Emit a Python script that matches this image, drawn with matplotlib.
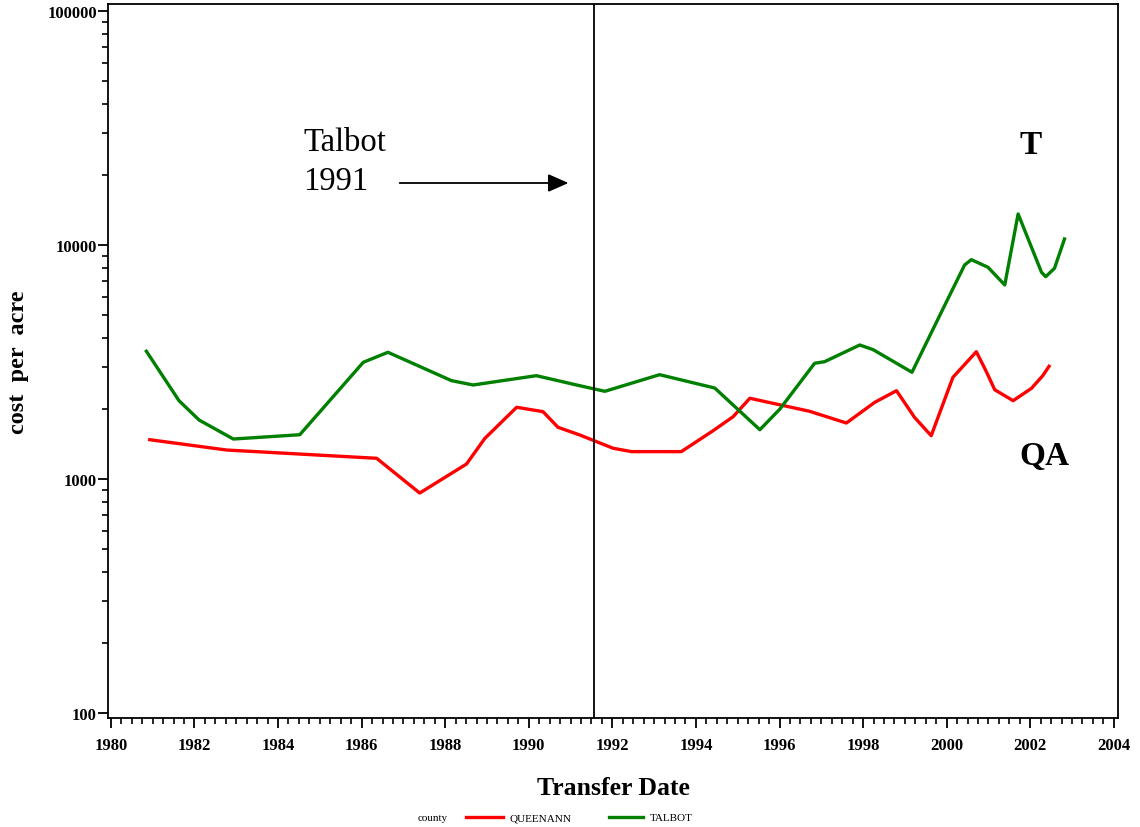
import numpy as np
import matplotlib
matplotlib.use('Agg')
import matplotlib.pyplot as plt
from matplotlib.ticker import FixedLocator, MultipleLocator, LogLocator, NullFormatter, FuncFormatter

plt.rcParams['font.family'] = ['Liberation Serif', 'DejaVu Serif']

# values (year, cost per acre)
talbot_year = [1980.85, 1981.63, 1982.11, 1982.93, 1984.52, 1986.04, 1986.63, 1988.15, 1988.67,
               1990.18, 1991.22, 1991.82, 1993.13, 1994.45, 1995.53, 1996.01, 1996.84, 1997.08,
               1997.92, 1998.24, 1999.17, 1999.91, 2000.43, 2000.59, 2000.99, 2001.39, 2001.71,
               2002.27, 2002.37, 2002.58, 2002.82]
talbot_cost = [3513, 2161, 1787, 1482, 1546, 3153, 3479, 2632, 2522,
               2764, 2504, 2370, 2791, 2448, 1624, 1991, 3122, 3172,
               3738, 3570, 2858, 5327, 8214, 8654, 8028, 6747, 13570,
               7643, 7320, 7949, 10607]

qa_year = [1980.93, 1982.77, 1986.36, 1987.39, 1988.51, 1988.95, 1989.71, 1990.34, 1990.70,
           1991.22, 1992.02, 1992.46, 1993.65, 1994.41, 1994.89, 1995.29, 1996.72, 1997.60,
           1998.28, 1998.80, 1999.23, 1999.63, 2000.15, 2000.71, 2000.95, 2001.15, 2001.59,
           2002.03, 2002.30, 2002.45]
qa_cost = [1472, 1330, 1226, 871, 1159, 1492, 2025, 1940, 1663,
           1542, 1353, 1309, 1309, 1608, 1846, 2213, 1947, 1735,
           2127, 2384, 1835, 1531, 2720, 3499, 2874, 2407, 2161,
           2441, 2764, 3031]

year_ticks = list(range(1980, 2005, 2))
cost_ticks = [100, 1000, 10000, 100000]
talbot_start = 1991.55

fig = plt.figure(figsize=(11.4, 8.28), dpi=100)
ax = fig.add_axes([0.0947, 0.1316, 0.886, 0.8624])

ax.plot(qa_year, qa_cost, color='#ff0000', lw=2.4, solid_joinstyle='round')
ax.plot(talbot_year, talbot_cost, color='#008000', lw=2.4, solid_joinstyle='round')
ax.axvline(talbot_start, color='black', lw=1.3)

ax.set_yscale('log')
ax.set_xlim(1979.93, 2004.1)
ax.set_ylim(95.2, 107100)

ax.xaxis.set_major_locator(FixedLocator(year_ticks))
ax.xaxis.set_minor_locator(MultipleLocator(0.25))
ax.yaxis.set_major_locator(FixedLocator(cost_ticks))
ax.yaxis.set_minor_locator(LogLocator(base=10, subs=np.arange(2, 10)))
ax.yaxis.set_minor_formatter(NullFormatter())
ax.yaxis.set_major_formatter(FuncFormatter(lambda v, p: '%d' % v))

ax.tick_params(which='major', direction='out', length=7, width=1.3, labelsize=12)
ax.tick_params(axis='y', which='major', pad=1)
ax.tick_params(axis='x', which='major', pad=7)
ax.tick_params(which='minor', direction='out', length=4.5, width=1.2)
for lab in ax.get_xticklabels() + ax.get_yticklabels():
    lab.set_fontweight('bold')
for s in ax.spines.values():
    s.set_linewidth(1.3)

ax.set_xlabel('Transfer Date', fontsize=18.5, fontweight='bold', labelpad=16)
ax.set_ylabel('cost  per  acre', fontsize=17.5, fontweight='bold', labelpad=13)

# annotations
ax.text(1984.60, 27600, 'Talbot', fontsize=23.5, ha='left', va='center')
ax.text(1984.60, 18900, '1991', fontsize=23.5, ha='left', va='center')
ax.annotate('', xy=(1990.95, 18400), xytext=(1986.91, 18400),
            arrowprops=dict(arrowstyle='-|>,head_length=1.25,head_width=0.55',
                            color='black', lw=1.3, shrinkA=0, shrinkB=0))
ax.text(2002.02, 26800, 'T', fontsize=24, fontweight='bold', ha='center', va='center')
ax.text(2002.33, 1265, 'QA', fontsize=24, fontweight='bold', ha='center', va='center')

# legend row at the bottom
fig.text(418 / 1140, 1 - 819 / 828, 'county', fontsize=8, ha='left', va='center')
fig.add_artist(plt.Line2D([466 / 1140, 503 / 1140], [1 - 818 / 828] * 2, color='#ff0000', lw=2.4))
fig.text(510 / 1140, 1 - 819 / 828, 'QUEENANN', fontsize=8, ha='left', va='center')
fig.add_artist(plt.Line2D([609 / 1140, 643 / 1140], [1 - 818 / 828] * 2, color='#008000', lw=2.4))
fig.text(650 / 1140, 1 - 819 / 828, 'TALBOT', fontsize=8, ha='left', va='center')

fig.savefig('out.png', dpi=100)
